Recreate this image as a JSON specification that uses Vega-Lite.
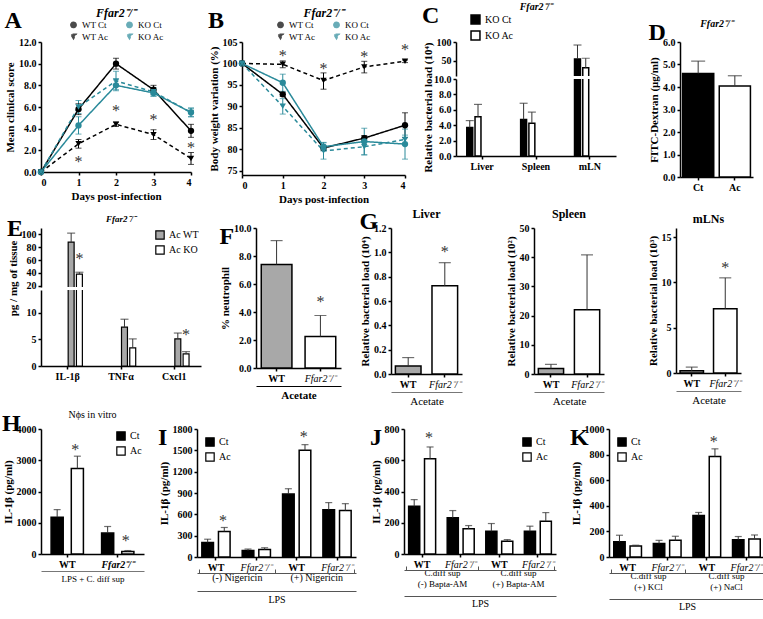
{
"$schema":"https://vega.github.io/schema/vega-lite/v6.json",
"padding":2,
"background":"white",
"config":{
 "font":"Liberation Serif",
 "view":{"stroke":null},
 "axis":{"grid":false,"domainColor":"black","domainWidth":1.5,"tickColor":"black","tickWidth":1.5,"tickSize":3,"labelFont":"Liberation Serif","labelFontSize":10,"labelFontWeight":"bold","labelColor":"black","titleFont":"Liberation Serif","titleFontSize":11,"titleFontWeight":"bold","titleColor":"black","labelPadding":2,"titlePadding":3,"labelOverlap":false,"titleLimit":300,"labelLimit":200},
 "axisX":{"labelAngle":0},
 "title":{"font":"Liberation Serif","color":"black"},
 "legend":{"labelFont":"Liberation Serif","labelColor":"black","labelFontSize":10,"layout":{"top":{"anchor":"middle"}}},
 "text":{"font":"Liberation Serif"}
},
"datasets":{
 "A":[
  {"g":"WT Ct","day":0,"v":0,"lo":0,"hi":0},{"g":"WT Ct","day":1,"v":5.8,"lo":5.3,"hi":6.3},{"g":"WT Ct","day":2,"v":10,"lo":9.5,"hi":10.5},{"g":"WT Ct","day":3,"v":7.6,"lo":7.2,"hi":8.0},{"g":"WT Ct","day":4,"v":3.8,"lo":3.2,"hi":4.4},
  {"g":"KO Ct","day":0,"v":0,"lo":0,"hi":0},{"g":"KO Ct","day":1,"v":4.3,"lo":3.5,"hi":5.1},{"g":"KO Ct","day":2,"v":8.0,"lo":7.5,"hi":8.5},{"g":"KO Ct","day":3,"v":7.3,"lo":7.0,"hi":7.6},{"g":"KO Ct","day":4,"v":5.5,"lo":5.1,"hi":5.9},
  {"g":"WT Ac","day":0,"v":0,"lo":0,"hi":0},{"g":"WT Ac","day":1,"v":2.6,"lo":2.2,"hi":3.0},{"g":"WT Ac","day":2,"v":4.4,"lo":4.2,"hi":4.6},{"g":"WT Ac","day":3,"v":3.45,"lo":3.0,"hi":3.9},{"g":"WT Ac","day":4,"v":1.25,"lo":0.7,"hi":1.8},
  {"g":"KO Ac","day":0,"v":0,"lo":0,"hi":0},{"g":"KO Ac","day":1,"v":6.0,"lo":5.4,"hi":6.6},{"g":"KO Ac","day":2,"v":8.4,"lo":7.6,"hi":9.3},{"g":"KO Ac","day":3,"v":7.4,"lo":7.0,"hi":7.8},{"g":"KO Ac","day":4,"v":5.5,"lo":5.1,"hi":5.9}],
 "Astar":[{"day":1,"y":0.9},{"day":2,"y":5.6},{"day":3,"y":4.8},{"day":4,"y":2.2}],
 "B":[
  {"g":"WT Ct","day":0,"v":100,"lo":100,"hi":100},{"g":"WT Ct","day":1,"v":92.8,"lo":92.3,"hi":93.3},{"g":"WT Ct","day":2,"v":80.3,"lo":79.8,"hi":80.8},{"g":"WT Ct","day":3,"v":82.6,"lo":82.0,"hi":83.2},{"g":"WT Ct","day":4,"v":85.6,"lo":82.7,"hi":88.5},
  {"g":"KO Ct","day":0,"v":100,"lo":100,"hi":100},{"g":"KO Ct","day":1,"v":95.5,"lo":93.5,"hi":97.5},{"g":"KO Ct","day":2,"v":80.6,"lo":79.6,"hi":81.6},{"g":"KO Ct","day":3,"v":81.8,"lo":78.7,"hi":84.9},{"g":"KO Ct","day":4,"v":81.2,"lo":77.7,"hi":84.7},
  {"g":"WT Ac","day":0,"v":100,"lo":100,"hi":100},{"g":"WT Ac","day":1,"v":99.8,"lo":99.0,"hi":100.6},{"g":"WT Ac","day":2,"v":96.0,"lo":94.0,"hi":97.8},{"g":"WT Ac","day":3,"v":99.2,"lo":97.8,"hi":100.5},{"g":"WT Ac","day":4,"v":100.5,"lo":100.2,"hi":100.8},
  {"g":"KO Ac","day":0,"v":100,"lo":100,"hi":100},{"g":"KO Ac","day":1,"v":90.0,"lo":88.2,"hi":91.8},{"g":"KO Ac","day":2,"v":79.6,"lo":77.7,"hi":81.5},{"g":"KO Ac","day":3,"v":80.6,"lo":78.7,"hi":82.5},{"g":"KO Ac","day":4,"v":82.3,"lo":81.3,"hi":83.3}],
 "Bstar":[{"day":1,"y":101.8},{"day":2,"y":98.6},{"day":3,"y":101.6},{"day":4,"y":103.1}],
 "C":[{"org":"Liver","g":"KO Ct","v":3.7,"hi":4.6},{"org":"Liver","g":"KO Ac","v":5.1,"hi":6.7},{"org":"Spleen","g":"KO Ct","v":4.75,"hi":6.85},{"org":"Spleen","g":"KO Ac","v":4.25,"hi":5.7},{"org":"mLN","g":"KO Ct","v":55,"hi":92},{"org":"mLN","g":"KO Ac","v":32,"hi":57}],
 "D":[{"g":"Ct","v":4.6,"hi":5.15},{"g":"Ac","v":4.05,"hi":4.5}],
 "E":[{"c":"IL-1β","g":"Ac WT","v":88,"hi":102},{"c":"IL-1β","g":"Ac KO","v":38,"hi":41,"star":62},{"c":"TNFα","g":"Ac WT","v":7.3,"hi":8.8},{"c":"TNFα","g":"Ac KO","v":3.4,"hi":5.1},{"c":"Cxcl1","g":"Ac WT","v":5.1,"hi":6.2},{"c":"Cxcl1","g":"Ac KO","v":2.3,"hi":2.7,"star":5.8}],
 "F":[{"c":"WT","v":7.4,"hi":9.1},{"c":"KO","v":2.25,"hi":3.75,"star":4.7}],
 "GL":[{"c":"WT","v":0.065,"hi":0.135},{"c":"KO","v":0.725,"hi":0.915,"star":1.0}],
 "GS":[{"c":"WT","v":1.9,"hi":3.3},{"c":"KO","v":22,"hi":40.8}],
 "GM":[{"c":"WT","v":0.25,"hi":0.65},{"c":"KO","v":7.1,"hi":10.5,"star":11.6}],
 "H":[{"cond":"WT","g":"Ct","v":1180,"hi":1420},{"cond":"WT","g":"Ac","v":2740,"hi":3130,"star":3320},{"cond":"KO","g":"Ct","v":670,"hi":880},{"cond":"KO","g":"Ac","v":80,"hi":110,"star":420}],
 "I":[{"grp":"(-) Nigericin","cond":"WT-","g":"Ct","v":205,"hi":250},{"grp":"(-) Nigericin","cond":"WT-","g":"Ac","v":360,"hi":415,"star":505},{"grp":"(-) Nigericin","cond":"KO-","g":"Ct","v":90,"hi":112},{"grp":"(-) Nigericin","cond":"KO-","g":"Ac","v":105,"hi":130},{"grp":"(+) Nigericin","cond":"WT+","g":"Ct","v":885,"hi":960},{"grp":"(+) Nigericin","cond":"WT+","g":"Ac","v":1500,"hi":1580,"star":1690},{"grp":"(+) Nigericin","cond":"KO+","g":"Ct","v":665,"hi":765},{"grp":"(+) Nigericin","cond":"KO+","g":"Ac","v":655,"hi":750}],
 "J":[{"grp":"C.diff sup|(-) Bapta-AM","cond":"WT-","g":"Ct","v":305,"hi":348},{"grp":"C.diff sup|(-) Bapta-AM","cond":"WT-","g":"Ac","v":610,"hi":685,"star":745},{"grp":"C.diff sup|(-) Bapta-AM","cond":"KO-","g":"Ct","v":232,"hi":278},{"grp":"C.diff sup|(-) Bapta-AM","cond":"KO-","g":"Ac","v":162,"hi":182},{"grp":"C.diff sup|(+) Bapta-AM","cond":"WT+","g":"Ct","v":145,"hi":195},{"grp":"C.diff sup|(+) Bapta-AM","cond":"WT+","g":"Ac","v":82,"hi":92},{"grp":"C.diff sup|(+) Bapta-AM","cond":"KO+","g":"Ct","v":145,"hi":178},{"grp":"C.diff sup|(+) Bapta-AM","cond":"KO+","g":"Ac","v":210,"hi":265}],
 "K":[{"grp":"C.diff sup|(+) KCl","cond":"WT-","g":"Ct","v":120,"hi":170},{"grp":"C.diff sup|(+) KCl","cond":"WT-","g":"Ac","v":85,"hi":92},{"grp":"C.diff sup|(+) KCl","cond":"KO-","g":"Ct","v":105,"hi":130},{"grp":"C.diff sup|(+) KCl","cond":"KO-","g":"Ac","v":130,"hi":162},{"grp":"C.diff sup|(+) NaCl","cond":"WT+","g":"Ct","v":325,"hi":348},{"grp":"C.diff sup|(+) NaCl","cond":"WT+","g":"Ac","v":785,"hi":845,"star":900},{"grp":"C.diff sup|(+) NaCl","cond":"KO+","g":"Ct","v":135,"hi":160},{"grp":"C.diff sup|(+) NaCl","cond":"KO+","g":"Ac","v":140,"hi":172}]
},
"spacing":4,
"resolve":{"scale":{"fill":"independent","color":"independent","shape":"independent","strokeDash":"independent"}},
"vconcat":[
 {"spacing":32,"resolve":{"scale":{"fill":"independent","color":"independent","shape":"independent","strokeDash":"independent"}},"hconcat":[
 {"spacing":12,"resolve":{"scale":{"fill":"independent","color":"independent","shape":"independent","strokeDash":"independent"}},"hconcat":[
  {"title":{"text":"A","anchor":"start","fontSize":24,"fontWeight":"bold","offset":-26},
   "resolve":{"scale":{"color":"independent","shape":"independent","strokeDash":"independent"}},
   "vconcat":[{
    "width":150,"height":130,
    "title":{"text":"Ffar2⁻/⁻","fontSize":12,"fontWeight":"bold","fontStyle":"italic","offset":0},
    "layer":[
     {"data":{"name":"A"},"mark":{"type":"rule","strokeWidth":1},"encoding":{"x":{"field":"day","type":"quantitative","scale":{"domain":[0,4],"nice":false},"axis":{"values":[0,1,2,3,4],"tickCount":20,"format":"d","title":"Days post-infection"}},"y":{"field":"lo","type":"quantitative","scale":{"domain":[0,12],"nice":false},"axis":{"values":[0,2,4,6,8,10,12],"tickCount":20,"title":"Mean clinical score"}},"y2":{"field":"hi"},"color":{"field":"g","type":"nominal","scale":{"domain":["WT Ct","KO Ct","WT Ac","KO Ac"],"range":["black","#2a8a9a","black","#2a8a9a"]}}}},
     {"data":{"name":"A"},"mark":{"type":"tick","orient":"horizontal","size":6,"thickness":1},"encoding":{"x":{"field":"day","type":"quantitative"},"y":{"field":"hi","type":"quantitative"},"color":{"field":"g","type":"nominal"}}},
     {"data":{"name":"A"},"mark":{"type":"tick","orient":"horizontal","size":6,"thickness":1},"encoding":{"x":{"field":"day","type":"quantitative"},"y":{"field":"lo","type":"quantitative"},"color":{"field":"g","type":"nominal"}}},
     {"data":{"name":"A"},"mark":{"type":"line","strokeWidth":1.5},"encoding":{"x":{"field":"day","type":"quantitative"},"y":{"field":"v","type":"quantitative"},"color":{"field":"g","type":"nominal"},"strokeDash":{"field":"g","type":"nominal","scale":{"domain":["WT Ct","KO Ct","WT Ac","KO Ac"],"range":[[1,0],[1,0],[4,3],[4,3]]}}}},
     {"data":{"name":"A"},"mark":{"type":"point","filled":true,"size":40,"opacity":1},"encoding":{"x":{"field":"day","type":"quantitative"},"y":{"field":"v","type":"quantitative"},"color":{"field":"g","type":"nominal","legend":{"orient":"top","offset":0,"padding":0,"columns":2,"direction":"horizontal","title":null,"labelFontSize":9,"symbolSize":28,"columnPadding":14,"rowPadding":0}},"shape":{"field":"g","type":"nominal","scale":{"domain":["WT Ct","KO Ct","WT Ac","KO Ac"],"range":["circle","circle","triangle-down","triangle-down"]}}}},
     {"data":{"name":"Astar"},"mark":{"type":"text","fontSize":16,"baseline":"middle","color":"#333"},"encoding":{"x":{"field":"day","type":"quantitative"},"y":{"field":"y","type":"quantitative"},"text":{"value":"*"}}}
    ]}]},
  {"title":{"text":"B","anchor":"start","fontSize":24,"fontWeight":"bold","offset":-26},
   "resolve":{"scale":{"color":"independent","shape":"independent","strokeDash":"independent"}},
   "vconcat":[{
    "width":163,"height":133,
    "title":{"text":"Ffar2⁻/⁻","fontSize":12,"fontWeight":"bold","fontStyle":"italic","offset":0},
    "layer":[
     {"data":{"name":"B"},"mark":{"type":"rule","strokeWidth":1},"encoding":{"x":{"field":"day","type":"quantitative","scale":{"domain":[0,4],"nice":false},"axis":{"values":[0,1,2,3,4],"tickCount":20,"format":"d","title":"Days post-infection"}},"y":{"field":"lo","type":"quantitative","scale":{"domain":[74,105],"nice":false,"zero":false},"axis":{"values":[75,80,85,90,95,100,105],"tickCount":20,"title":"Body weight variation (%)"}},"y2":{"field":"hi"},"color":{"field":"g","type":"nominal","scale":{"domain":["WT Ct","KO Ct","WT Ac","KO Ac"],"range":["black","#2a8a9a","black","#2a8a9a"]}}}},
     {"data":{"name":"B"},"mark":{"type":"tick","orient":"horizontal","size":6,"thickness":1},"encoding":{"x":{"field":"day","type":"quantitative"},"y":{"field":"hi","type":"quantitative"},"color":{"field":"g","type":"nominal"}}},
     {"data":{"name":"B"},"mark":{"type":"tick","orient":"horizontal","size":6,"thickness":1},"encoding":{"x":{"field":"day","type":"quantitative"},"y":{"field":"lo","type":"quantitative"},"color":{"field":"g","type":"nominal"}}},
     {"data":{"name":"B"},"mark":{"type":"line","strokeWidth":1.5},"encoding":{"x":{"field":"day","type":"quantitative"},"y":{"field":"v","type":"quantitative"},"color":{"field":"g","type":"nominal"},"strokeDash":{"field":"g","type":"nominal","scale":{"domain":["WT Ct","KO Ct","WT Ac","KO Ac"],"range":[[1,0],[1,0],[4,3],[4,3]]}}}},
     {"data":{"name":"B"},"mark":{"type":"point","filled":true,"size":40,"opacity":1},"encoding":{"x":{"field":"day","type":"quantitative"},"y":{"field":"v","type":"quantitative"},"color":{"field":"g","type":"nominal","legend":{"orient":"top","offset":0,"padding":0,"columns":2,"direction":"horizontal","title":null,"labelFontSize":9,"symbolSize":28,"columnPadding":14,"rowPadding":0}},"shape":{"field":"g","type":"nominal","scale":{"domain":["WT Ct","KO Ct","WT Ac","KO Ac"],"range":["circle","circle","triangle-down","triangle-down"]}}}},
     {"data":{"name":"Bstar"},"mark":{"type":"text","fontSize":16,"baseline":"middle","color":"#333"},"encoding":{"x":{"field":"day","type":"quantitative"},"y":{"field":"y","type":"quantitative"},"text":{"value":"*"}}}
    ]}]},
  {"title":{"text":"C","anchor":"start","fontSize":24,"fontWeight":"bold","offset":-26},
   "resolve":{"scale":{"fill":"independent"}},
   "vconcat":[{
    "data":{"name":"C"},
    "bounds":"flush","spacing":3,
    "resolve":{"scale":{"fill":"independent"}},
    "vconcat":[
     {"width":160,"height":34,
      "title":{"text":"Ffar2⁻/⁻","fontSize":10,"fontWeight":"bold","fontStyle":"italic","offset":2,"frame":"group"},
      "layer":[
       {"mark":{"type":"bar","stroke":"black","strokeWidth":1.5,"clip":true},"encoding":{"x":{"field":"org","type":"nominal","sort":null,"scale":{"paddingInner":0.43,"paddingOuter":0.2},"axis":null},"xOffset":{"field":"g","sort":null,"scale":{"domain":["KO Ct","KO Ac"],"paddingInner":0.28}},"y":{"field":"v","type":"quantitative","scale":{"domain":[10,100],"nice":false,"zero":false},"axis":{"values":[50,100],"tickCount":20,"title":"Relative bacterial load (10⁴)","titleAnchor":"end"}},"fill":{"field":"g","type":"nominal","scale":{"domain":["KO Ct","KO Ac"],"range":["black","white"]},"legend":{"orient":"none","legendX":14,"legendY":-28,"direction":"vertical","title":null,"symbolType":"square","symbolStrokeColor":"black","symbolStrokeWidth":1.5,"symbolSize":80,"labelFontSize":10,"rowPadding":1,"padding":0}}}},
       {"mark":{"type":"rule","color":"#333","clip":true},"encoding":{"x":{"field":"org","type":"nominal","sort":null},"xOffset":{"field":"g","sort":null},"y":{"field":"v","type":"quantitative"},"y2":{"field":"hi"}}},
       {"mark":{"type":"tick","color":"#333","thickness":1.2,"size":8,"clip":true},"encoding":{"x":{"field":"org","type":"nominal","sort":null},"xOffset":{"field":"g","sort":null},"y":{"field":"hi","type":"quantitative"}}}
      ]},
     {"width":160,"height":77,
      "layer":[
       {"mark":{"type":"bar","stroke":"black","strokeWidth":1.5,"clip":true},"encoding":{"x":{"field":"org","type":"nominal","sort":null,"scale":{"paddingInner":0.43,"paddingOuter":0.2},"axis":{"title":null}},"xOffset":{"field":"g","sort":null,"scale":{"domain":["KO Ct","KO Ac"],"paddingInner":0.28}},"y":{"field":"v","type":"quantitative","scale":{"domain":[0,10],"nice":false},"axis":{"values":[0,2,4,6,8,10],"tickCount":20,"title":null}},"fill":{"field":"g","type":"nominal","scale":{"domain":["KO Ct","KO Ac"],"range":["black","white"]},"legend":null}}},
       {"mark":{"type":"rule","color":"#333","clip":true},"encoding":{"x":{"field":"org","type":"nominal","sort":null},"xOffset":{"field":"g","sort":null},"y":{"field":"v","type":"quantitative"},"y2":{"field":"hi"}}},
       {"mark":{"type":"tick","color":"#333","thickness":1.2,"size":8,"clip":true},"encoding":{"x":{"field":"org","type":"nominal","sort":null},"xOffset":{"field":"g","sort":null},"y":{"field":"hi","type":"quantitative"}}}
      ]}
    ]}]}
 ]},
  {"title":{"text":"D","anchor":"start","fontSize":24,"fontWeight":"bold","offset":-26},
   "resolve":{"scale":{"fill":"independent"}},
   "vconcat":[{
    "width":73,"height":135,
    "title":{"text":"Ffar2⁻/⁻","fontSize":10,"fontWeight":"bold","fontStyle":"italic","offset":8},
    "data":{"name":"D"},
    "layer":[
     {"mark":{"type":"bar","stroke":"black","strokeWidth":1.5},"encoding":{"x":{"field":"g","type":"nominal","sort":null,"scale":{"paddingInner":0.15,"paddingOuter":0.07},"axis":{"title":null}},"y":{"field":"v","type":"quantitative","scale":{"domain":[0,6],"nice":false},"axis":{"values":[0,1,2,3,4,5,6],"tickCount":20,"title":"FITC-Dextran (μg/ml)"}},"fill":{"field":"g","type":"nominal","scale":{"domain":["Ct","Ac"],"range":["black","white"]},"legend":null}}},
     {"mark":{"type":"rule","color":"#333"},"encoding":{"x":{"field":"g","type":"nominal","sort":null},"y":{"field":"v","type":"quantitative"},"y2":{"field":"hi"}}},
     {"mark":{"type":"tick","color":"#333","thickness":1.2,"size":14},"encoding":{"x":{"field":"g","type":"nominal","sort":null},"y":{"field":"hi","type":"quantitative"}}}
    ]}]}
 ]},
 {"spacing":18,"resolve":{"scale":{"fill":"independent","color":"independent","shape":"independent","strokeDash":"independent"}},"hconcat":[
  {"title":{"text":"E","anchor":"start","fontSize":24,"fontWeight":"bold","offset":-26},
   "resolve":{"scale":{"fill":"independent"}},
   "vconcat":[{
    "data":{"name":"E"},
    "bounds":"flush","spacing":3,
    "resolve":{"scale":{"fill":"independent"}},
    "vconcat":[
     {"width":160,"height":59,
      "title":{"text":"Ffar2⁻/⁻","fontSize":9,"fontWeight":"bold","fontStyle":"italic","offset":4,"frame":"group"},
      "layer":[
       {"mark":{"type":"bar","stroke":"black","strokeWidth":1.2,"clip":true},"encoding":{"x":{"field":"c","type":"nominal","sort":null,"scale":{"paddingInner":0.4,"paddingOuter":0.2},"axis":null},"xOffset":{"field":"g","sort":null,"scale":{"domain":["Ac WT","Ac KO"],"paddingInner":0.4}},"y":{"field":"v","type":"quantitative","scale":{"domain":[18,110],"nice":false,"zero":false},"axis":{"values":[20,40,60,80,100],"tickCount":20,"title":"pg / mg of tissue","titleAnchor":"end","titleY":12}},"fill":{"field":"g","type":"nominal","scale":{"domain":["Ac WT","Ac KO"],"range":["#a8a8a8","white"]},"legend":{"orient":"top-right","offset":2,"title":null,"symbolType":"square","symbolStrokeColor":"black","symbolStrokeWidth":1.2,"symbolSize":70,"labelFontSize":10,"rowPadding":1,"padding":0}}}},
       {"mark":{"type":"rule","color":"#333","clip":true},"encoding":{"x":{"field":"c","type":"nominal","sort":null},"xOffset":{"field":"g","sort":null},"y":{"field":"v","type":"quantitative"},"y2":{"field":"hi"}}},
       {"mark":{"type":"tick","color":"#333","thickness":1.2,"size":8,"clip":true},"encoding":{"x":{"field":"c","type":"nominal","sort":null},"xOffset":{"field":"g","sort":null},"y":{"field":"hi","type":"quantitative"}}},
       {"transform":[{"filter":"datum.star > 18"}],"mark":{"type":"text","fontSize":16,"baseline":"middle","color":"#333"},"encoding":{"x":{"field":"c","type":"nominal","sort":null},"xOffset":{"field":"g","sort":null},"y":{"field":"star","type":"quantitative"},"text":{"value":"*"}}}
      ]},
     {"width":160,"height":76,
      "layer":[
       {"mark":{"type":"bar","stroke":"black","strokeWidth":1.2,"clip":true},"encoding":{"x":{"field":"c","type":"nominal","sort":null,"scale":{"paddingInner":0.4,"paddingOuter":0.2},"axis":{"title":null}},"xOffset":{"field":"g","sort":null,"scale":{"domain":["Ac WT","Ac KO"],"paddingInner":0.4}},"y":{"field":"v","type":"quantitative","scale":{"domain":[0,14.3],"nice":false},"axis":{"values":[0,5,10],"tickCount":20,"title":null}},"fill":{"field":"g","type":"nominal","scale":{"domain":["Ac WT","Ac KO"],"range":["#a8a8a8","white"]},"legend":null}}},
       {"mark":{"type":"rule","color":"#333","clip":true},"encoding":{"x":{"field":"c","type":"nominal","sort":null},"xOffset":{"field":"g","sort":null},"y":{"field":"v","type":"quantitative"},"y2":{"field":"hi"}}},
       {"mark":{"type":"tick","color":"#333","thickness":1.2,"size":8,"clip":true},"encoding":{"x":{"field":"c","type":"nominal","sort":null},"xOffset":{"field":"g","sort":null},"y":{"field":"hi","type":"quantitative"}}},
       {"transform":[{"filter":"datum.star < 14"}],"mark":{"type":"text","fontSize":16,"baseline":"middle","color":"#333"},"encoding":{"x":{"field":"c","type":"nominal","sort":null},"xOffset":{"field":"g","sort":null},"y":{"field":"star","type":"quantitative"},"text":{"value":"*"}}}
      ]}
    ]}]},
  {"title":{"text":"F","anchor":"start","fontSize":24,"fontWeight":"bold","offset":-26},
   "resolve":{"scale":{"fill":"independent"}},
   "vconcat":[{
    "width":85,"height":140,"data":{"name":"F"},
    "resolve":{"scale":{"x":"independent"},"axis":{"x":"independent"}},
    "layer":[
     {"mark":{"type":"bar","stroke":"black","strokeWidth":1.5},"encoding":{"x":{"field":"c","type":"nominal","scale":{"type":"band","domain":["WT","KO"],"paddingInner":0.3,"paddingOuter":0.12},"axis":{"title":null,"labelExpr":"datum.value=='WT' ? 'WT' : 'Ffar2⁻/⁻'","labelFontStyle":{"condition":{"test":"datum.value!='WT'","value":"italic"},"value":"normal"},"labelFontWeight":{"condition":{"test":"datum.value!='WT'","value":"normal"},"value":"bold"}}},"y":{"field":"v","type":"quantitative","scale":{"domain":[0,10],"nice":false},"axis":{"values":[0,2,4,6,8,10],"tickCount":20,"title":"% neutrophil"}},"fill":{"field":"c","type":"nominal","scale":{"domain":["WT","KO"],"range":["#a8a8a8","white"]},"legend":null}}},
     {"mark":{"type":"rule","color":"#333"},"encoding":{"x":{"field":"c","type":"nominal","scale":{"type":"band","domain":["WT","KO"],"paddingInner":0.3,"paddingOuter":0.12},"axis":null},"y":{"field":"v","type":"quantitative"},"y2":{"field":"hi"}}},
     {"mark":{"type":"tick","color":"#333","thickness":1.2,"size":12},"encoding":{"x":{"field":"c","type":"nominal","scale":{"type":"band","domain":["WT","KO"],"paddingInner":0.3,"paddingOuter":0.12},"axis":null},"y":{"field":"hi","type":"quantitative"}}},
     {"transform":[{"filter":"isValid(datum.star)"}],"mark":{"type":"text","fontSize":16,"baseline":"middle","color":"#333"},"encoding":{"x":{"field":"c","type":"nominal","scale":{"type":"band","domain":["WT","KO"],"paddingInner":0.3,"paddingOuter":0.12},"axis":null},"y":{"field":"star","type":"quantitative"},"text":{"value":"*"}}},
     {"mark":{"type":"point","opacity":0},"encoding":{"x":{"field":"c","type":"nominal","scale":{"type":"band","domain":["WT","KO"]},"axis":{"orient":"bottom","offset":18,"labels":false,"ticks":false,"domainWidth":1,"title":"Acetate","titlePadding":3}},"y":{"field":"v","type":"quantitative"}}}
    ]}]},
  {"spacing":42,"resolve":{"scale":{"fill":"independent"}},"hconcat":[
  {"title":{"text":"G","anchor":"start","fontSize":24,"fontWeight":"bold","offset":-26},
   "resolve":{"scale":{"fill":"independent"}},
   "vconcat":[{
    "width":71,"height":146,"data":{"name":"GL"},
    "title":{"text":"Liver","fontSize":12,"fontWeight":"bold","offset":2},
    "resolve":{"scale":{"x":"independent"},"axis":{"x":"independent"}},
    "layer":[
     {"mark":{"type":"bar","stroke":"black","strokeWidth":1.5},"encoding":{"x":{"field":"c","type":"nominal","scale":{"type":"band","domain":["WT","KO"],"paddingInner":0.3,"paddingOuter":0.12},"axis":{"title":null,"labelExpr":"datum.value=='WT' ? 'WT' : 'Ffar2⁻/⁻'","labelFontStyle":{"condition":{"test":"datum.value!='WT'","value":"italic"},"value":"normal"},"labelFontWeight":{"condition":{"test":"datum.value!='WT'","value":"normal"},"value":"bold"}}},"y":{"field":"v","type":"quantitative","scale":{"domain":[0,1.2],"nice":false},"axis":{"values":[0,0.2,0.4,0.6,0.8,1.0,1.2],"tickCount":20,"format":".1f","title":"Relative bacterial load (10⁴)"}},"fill":{"field":"c","type":"nominal","scale":{"domain":["WT","KO"],"range":["#a8a8a8","white"]},"legend":null}}},
     {"mark":{"type":"rule","color":"#333"},"encoding":{"x":{"field":"c","type":"nominal","scale":{"type":"band","domain":["WT","KO"],"paddingInner":0.3,"paddingOuter":0.12},"axis":null},"y":{"field":"v","type":"quantitative"},"y2":{"field":"hi"}}},
     {"mark":{"type":"tick","color":"#333","thickness":1.2,"size":12},"encoding":{"x":{"field":"c","type":"nominal","scale":{"type":"band","domain":["WT","KO"],"paddingInner":0.3,"paddingOuter":0.12},"axis":null},"y":{"field":"hi","type":"quantitative"}}},
     {"transform":[{"filter":"isValid(datum.star)"}],"mark":{"type":"text","fontSize":16,"baseline":"middle","color":"#333"},"encoding":{"x":{"field":"c","type":"nominal","scale":{"type":"band","domain":["WT","KO"],"paddingInner":0.3,"paddingOuter":0.12},"axis":null},"y":{"field":"star","type":"quantitative"},"text":{"value":"*"}}},
     {"mark":{"type":"point","opacity":0},"encoding":{"x":{"field":"c","type":"nominal","scale":{"type":"band","domain":["WT","KO"]},"axis":{"orient":"bottom","offset":18,"labels":false,"ticks":false,"domainWidth":1,"domainColor":"#777","title":"Acetate","titleFontWeight":"normal","titleFontSize":11,"titlePadding":3}},"y":{"field":"v","type":"quantitative"}}}
    ]}]},
  {"width":70,"height":146,"data":{"name":"GS"},
   "title":{"text":"Spleen","fontSize":12,"fontWeight":"bold","offset":2},
   "resolve":{"scale":{"x":"independent"},"axis":{"x":"independent"}},
   "layer":[
    {"mark":{"type":"bar","stroke":"black","strokeWidth":1.5},"encoding":{"x":{"field":"c","type":"nominal","scale":{"type":"band","domain":["WT","KO"],"paddingInner":0.3,"paddingOuter":0.12},"axis":{"title":null,"labelExpr":"datum.value=='WT' ? 'WT' : 'Ffar2⁻/⁻'","labelFontStyle":{"condition":{"test":"datum.value!='WT'","value":"italic"},"value":"normal"},"labelFontWeight":{"condition":{"test":"datum.value!='WT'","value":"normal"},"value":"bold"}}},"y":{"field":"v","type":"quantitative","scale":{"domain":[0,50],"nice":false},"axis":{"values":[0,10,20,30,40,50],"tickCount":20,"title":"Relative bacterial load (10²)"}},"fill":{"field":"c","type":"nominal","scale":{"domain":["WT","KO"],"range":["#a8a8a8","white"]},"legend":null}}},
    {"mark":{"type":"rule","color":"#333"},"encoding":{"x":{"field":"c","type":"nominal","scale":{"type":"band","domain":["WT","KO"],"paddingInner":0.3,"paddingOuter":0.12},"axis":null},"y":{"field":"v","type":"quantitative"},"y2":{"field":"hi"}}},
    {"mark":{"type":"tick","color":"#333","thickness":1.2,"size":12},"encoding":{"x":{"field":"c","type":"nominal","scale":{"type":"band","domain":["WT","KO"],"paddingInner":0.3,"paddingOuter":0.12},"axis":null},"y":{"field":"hi","type":"quantitative"}}},
    {"mark":{"type":"point","opacity":0},"encoding":{"x":{"field":"c","type":"nominal","scale":{"type":"band","domain":["WT","KO"]},"axis":{"orient":"bottom","offset":18,"labels":false,"ticks":false,"domainWidth":1,"domainColor":"#777","title":"Acetate","titleFontWeight":"normal","titleFontSize":11,"titlePadding":3}},"y":{"field":"v","type":"quantitative"}}}
   ]},
  {"width":65,"height":145,"data":{"name":"GM"},
   "title":{"text":"mLNs","fontSize":12,"fontWeight":"bold","offset":2},
   "resolve":{"scale":{"x":"independent"},"axis":{"x":"independent"}},
   "layer":[
    {"mark":{"type":"bar","stroke":"black","strokeWidth":1.5},"encoding":{"x":{"field":"c","type":"nominal","scale":{"type":"band","domain":["WT","KO"],"paddingInner":0.3,"paddingOuter":0.12},"axis":{"title":null,"labelExpr":"datum.value=='WT' ? 'WT' : 'Ffar2⁻/⁻'","labelFontStyle":{"condition":{"test":"datum.value!='WT'","value":"italic"},"value":"normal"},"labelFontWeight":{"condition":{"test":"datum.value!='WT'","value":"normal"},"value":"bold"}}},"y":{"field":"v","type":"quantitative","scale":{"domain":[0,16],"nice":false},"axis":{"values":[0,5,10,15],"tickCount":20,"title":"Relative bacterial load (10³)"}},"fill":{"field":"c","type":"nominal","scale":{"domain":["WT","KO"],"range":["#a8a8a8","white"]},"legend":null}}},
    {"mark":{"type":"rule","color":"#333"},"encoding":{"x":{"field":"c","type":"nominal","scale":{"type":"band","domain":["WT","KO"],"paddingInner":0.3,"paddingOuter":0.12},"axis":null},"y":{"field":"v","type":"quantitative"},"y2":{"field":"hi"}}},
    {"mark":{"type":"tick","color":"#333","thickness":1.2,"size":12},"encoding":{"x":{"field":"c","type":"nominal","scale":{"type":"band","domain":["WT","KO"],"paddingInner":0.3,"paddingOuter":0.12},"axis":null},"y":{"field":"hi","type":"quantitative"}}},
    {"transform":[{"filter":"isValid(datum.star)"}],"mark":{"type":"text","fontSize":16,"baseline":"middle","color":"#333"},"encoding":{"x":{"field":"c","type":"nominal","scale":{"type":"band","domain":["WT","KO"],"paddingInner":0.3,"paddingOuter":0.12},"axis":null},"y":{"field":"star","type":"quantitative"},"text":{"value":"*"}}},
    {"mark":{"type":"point","opacity":0},"encoding":{"x":{"field":"c","type":"nominal","scale":{"type":"band","domain":["WT","KO"]},"axis":{"orient":"bottom","offset":18,"labels":false,"ticks":false,"domainWidth":1,"domainColor":"#777","title":"Acetate","titleFontWeight":"normal","titleFontSize":11,"titlePadding":3}},"y":{"field":"v","type":"quantitative"}}}
   ]}
  ]}
 ]},
 {"spacing":14,"resolve":{"scale":{"fill":"independent","color":"independent","shape":"independent","strokeDash":"independent"}},"hconcat":[
  {"title":{"text":"H","anchor":"start","fontSize":24,"fontWeight":"bold","offset":-26},
   "resolve":{"scale":{"fill":"independent"}},
   "vconcat":[{
    "width":103,"height":125,"data":{"name":"H"},
    "title":{"text":"Nϕs in vitro","fontSize":10,"fontWeight":"normal","offset":4},
    "resolve":{"scale":{"x":"independent","xOffset":"independent"},"axis":{"x":"independent"}},
    "layer":[
     {"mark":{"type":"bar","stroke":"black","strokeWidth":1.5},"encoding":{"x":{"field":"cond","type":"nominal","scale":{"type":"band","domain":["WT","KO"],"paddingInner":0.36,"paddingOuter":0.2},"axis":{"title":null,"labelExpr":"datum.value=='WT' ? 'WT' : 'Ffar2⁻/⁻'","labelFontStyle":{"condition":{"test":"datum.value!='WT'","value":"italic"},"value":"normal"}}},"xOffset":{"field":"g","scale":{"domain":["Ct","Ac"],"paddingInner":0.4}},"y":{"field":"v","type":"quantitative","scale":{"domain":[0,4000],"nice":false},"axis":{"values":[0,1000,2000,3000,4000],"tickCount":20,"format":"d","title":"IL-1β (pg/ml)"}},"fill":{"field":"g","type":"nominal","scale":{"domain":["Ct","Ac"],"range":["black","white"]},"legend":{"orient":"top-right","offset":2,"title":null,"symbolType":"square","symbolStrokeColor":"black","symbolStrokeWidth":1.2,"symbolSize":70,"labelFontSize":10,"rowPadding":1,"padding":0}}}},
     {"mark":{"type":"rule","color":"#333"},"encoding":{"x":{"field":"cond","type":"nominal","scale":{"type":"band","domain":["WT","KO"],"paddingInner":0.36,"paddingOuter":0.2},"axis":null},"xOffset":{"field":"g","scale":{"domain":["Ct","Ac"],"paddingInner":0.4}},"y":{"field":"v","type":"quantitative"},"y2":{"field":"hi"}}},
     {"mark":{"type":"tick","color":"#333","thickness":1.2,"size":7},"encoding":{"x":{"field":"cond","type":"nominal","scale":{"type":"band","domain":["WT","KO"],"paddingInner":0.36,"paddingOuter":0.2},"axis":null},"xOffset":{"field":"g","scale":{"domain":["Ct","Ac"],"paddingInner":0.4}},"y":{"field":"hi","type":"quantitative"}}},
     {"transform":[{"filter":"isValid(datum.star)"}],"mark":{"type":"text","fontSize":16,"baseline":"middle","color":"#333"},"encoding":{"x":{"field":"cond","type":"nominal","scale":{"type":"band","domain":["WT","KO"],"paddingInner":0.36,"paddingOuter":0.2},"axis":null},"xOffset":{"field":"g","scale":{"domain":["Ct","Ac"],"paddingInner":0.4}},"y":{"field":"star","type":"quantitative"},"text":{"value":"*"}}},
     {"mark":{"type":"point","opacity":0},"encoding":{"x":{"field":"cond","type":"nominal","scale":{"type":"band","domain":["WT","KO"]},"axis":{"orient":"bottom","offset":17,"labels":false,"ticks":false,"domainWidth":1,"domainColor":"#777","title":"LPS + C. diff sup","titleFontWeight":"normal","titleFontSize":9,"titlePadding":3}},"y":{"field":"v","type":"quantitative"}}}
    ]}]},
  {"title":{"text":"I","anchor":"start","fontSize":24,"fontWeight":"bold","offset":-26},
   "resolve":{"scale":{"fill":"independent"}},
   "vconcat":[{
    "width":159,"height":128,"data":{"name":"I"},
    "resolve":{"scale":{"x":"independent","xOffset":"independent"},"axis":{"x":"independent"}},
    "layer":[
     {"mark":{"type":"bar","stroke":"black","strokeWidth":1.5},"encoding":{"x":{"field":"cond","type":"nominal","scale":{"type":"band","domain":["WT-","KO-","WT+","KO+"],"paddingInner":0.3,"paddingOuter":0.12},"axis":{"title":null,"labelExpr":"indexof(datum.value,'WT')==0 ? 'WT' : 'Ffar2⁻/⁻'","labelFontStyle":{"condition":{"test":"indexof(datum.value,'WT')!=0","value":"italic"},"value":"normal"},"labelFontWeight":{"condition":{"test":"indexof(datum.value,'WT')!=0","value":"normal"},"value":"bold"}}},"xOffset":{"field":"g","scale":{"domain":["Ct","Ac"],"paddingInner":0.3}},"y":{"field":"v","type":"quantitative","scale":{"domain":[0,1800],"nice":false},"axis":{"values":[0,300,600,900,1200,1500,1800],"tickCount":20,"format":"d","title":"IL-1β (pg/ml)"}},"fill":{"field":"g","type":"nominal","scale":{"domain":["Ct","Ac"],"range":["black","white"]},"legend":{"orient":"top-left","offset":8,"title":null,"symbolType":"square","symbolStrokeColor":"black","symbolStrokeWidth":1.2,"symbolSize":70,"labelFontSize":10,"rowPadding":1,"padding":0}}}},
     {"mark":{"type":"rule","color":"#333"},"encoding":{"x":{"field":"cond","type":"nominal","scale":{"type":"band","domain":["WT-","KO-","WT+","KO+"],"paddingInner":0.3,"paddingOuter":0.12},"axis":null},"xOffset":{"field":"g","scale":{"domain":["Ct","Ac"],"paddingInner":0.3}},"y":{"field":"v","type":"quantitative"},"y2":{"field":"hi"}}},
     {"mark":{"type":"tick","color":"#333","thickness":1.2,"size":7},"encoding":{"x":{"field":"cond","type":"nominal","scale":{"type":"band","domain":["WT-","KO-","WT+","KO+"],"paddingInner":0.3,"paddingOuter":0.12},"axis":null},"xOffset":{"field":"g","scale":{"domain":["Ct","Ac"],"paddingInner":0.3}},"y":{"field":"hi","type":"quantitative"}}},
     {"transform":[{"filter":"isValid(datum.star)"}],"mark":{"type":"text","fontSize":16,"baseline":"middle","color":"#333"},"encoding":{"x":{"field":"cond","type":"nominal","scale":{"type":"band","domain":["WT-","KO-","WT+","KO+"],"paddingInner":0.3,"paddingOuter":0.12},"axis":null},"xOffset":{"field":"g","scale":{"domain":["Ct","Ac"],"paddingInner":0.3}},"y":{"field":"star","type":"quantitative"},"text":{"value":"*"}}},
     {"mark":{"type":"point","opacity":0},"encoding":{"x":{"field":"grp","type":"nominal","scale":{"type":"band","domain":["(-) Nigericin","(+) Nigericin"],"paddingInner":0.04,"paddingOuter":0.02},"axis":{"orient":"bottom","offset":16,"tickBand":"extent","tickSize":-4,"tickWidth":1,"tickColor":"#555","domainWidth":1,"domainColor":"#555","labelFontWeight":"normal","labelFontSize":10,"labelPadding":3,"title":null}},"y":{"field":"v","type":"quantitative"}}},
     {"mark":{"type":"point","opacity":0},"encoding":{"x":{"field":"grp","type":"nominal","scale":{"type":"band","domain":["(-) Nigericin","(+) Nigericin"]},"axis":{"orient":"bottom","offset":34,"labels":false,"ticks":false,"domainWidth":1,"domainColor":"#555","title":"LPS","titleFontWeight":"normal","titleFontSize":10,"titlePadding":3}},"y":{"field":"v","type":"quantitative"}}}
    ]}]},
  {"title":{"text":"J","anchor":"start","fontSize":24,"fontWeight":"bold","offset":-26},
   "resolve":{"scale":{"fill":"independent"}},
   "vconcat":[{
    "width":152,"height":125,"data":{"name":"J"},
    "resolve":{"scale":{"x":"independent","xOffset":"independent"},"axis":{"x":"independent"}},
    "layer":[
     {"mark":{"type":"bar","stroke":"black","strokeWidth":1.5},"encoding":{"x":{"field":"cond","type":"nominal","scale":{"type":"band","domain":["WT-","KO-","WT+","KO+"],"paddingInner":0.3,"paddingOuter":0.12},"axis":{"title":null,"labelExpr":"indexof(datum.value,'WT')==0 ? 'WT' : 'Ffar2⁻/⁻'","labelFontStyle":{"condition":{"test":"indexof(datum.value,'WT')!=0","value":"italic"},"value":"normal"},"labelFontWeight":{"condition":{"test":"indexof(datum.value,'WT')!=0","value":"normal"},"value":"bold"}}},"xOffset":{"field":"g","scale":{"domain":["Ct","Ac"],"paddingInner":0.3}},"y":{"field":"v","type":"quantitative","scale":{"domain":[0,800],"nice":false},"axis":{"values":[0,200,400,600,800],"tickCount":20,"title":"IL-1β (pg/ml)"}},"fill":{"field":"g","type":"nominal","scale":{"domain":["Ct","Ac"],"range":["black","white"]},"legend":{"orient":"top-right","offset":8,"title":null,"symbolType":"square","symbolStrokeColor":"black","symbolStrokeWidth":1.2,"symbolSize":70,"labelFontSize":10,"rowPadding":1,"padding":0}}}},
     {"mark":{"type":"rule","color":"#333"},"encoding":{"x":{"field":"cond","type":"nominal","scale":{"type":"band","domain":["WT-","KO-","WT+","KO+"],"paddingInner":0.3,"paddingOuter":0.12},"axis":null},"xOffset":{"field":"g","scale":{"domain":["Ct","Ac"],"paddingInner":0.3}},"y":{"field":"v","type":"quantitative"},"y2":{"field":"hi"}}},
     {"mark":{"type":"tick","color":"#333","thickness":1.2,"size":7},"encoding":{"x":{"field":"cond","type":"nominal","scale":{"type":"band","domain":["WT-","KO-","WT+","KO+"],"paddingInner":0.3,"paddingOuter":0.12},"axis":null},"xOffset":{"field":"g","scale":{"domain":["Ct","Ac"],"paddingInner":0.3}},"y":{"field":"hi","type":"quantitative"}}},
     {"transform":[{"filter":"isValid(datum.star)"}],"mark":{"type":"text","fontSize":16,"baseline":"middle","color":"#333"},"encoding":{"x":{"field":"cond","type":"nominal","scale":{"type":"band","domain":["WT-","KO-","WT+","KO+"],"paddingInner":0.3,"paddingOuter":0.12},"axis":null},"xOffset":{"field":"g","scale":{"domain":["Ct","Ac"],"paddingInner":0.3}},"y":{"field":"star","type":"quantitative"},"text":{"value":"*"}}},
     {"mark":{"type":"point","opacity":0},"encoding":{"x":{"field":"grp","type":"nominal","scale":{"type":"band","domain":["C.diff sup|(-) Bapta-AM","C.diff sup|(+) Bapta-AM"],"paddingInner":0.04,"paddingOuter":0.02},"axis":{"orient":"bottom","offset":16,"tickBand":"extent","tickSize":-4,"tickWidth":1,"tickColor":"#555","domainWidth":1,"domainColor":"#555","labelFontWeight":"normal","labelFontSize":9,"labelPadding":2,"labelExpr":"isValid(datum.value) ? split(datum.value,'|') : ''","title":null}},"y":{"field":"v","type":"quantitative"}}},
     {"mark":{"type":"point","opacity":0},"encoding":{"x":{"field":"grp","type":"nominal","scale":{"type":"band","domain":["C.diff sup|(-) Bapta-AM","C.diff sup|(+) Bapta-AM"]},"axis":{"orient":"bottom","offset":42,"labels":false,"ticks":false,"domainWidth":1,"domainColor":"#555","title":"LPS","titleFontWeight":"normal","titleFontSize":10,"titlePadding":2}},"y":{"field":"v","type":"quantitative"}}}
    ]}]},
  {"title":{"text":"K","anchor":"start","fontSize":24,"fontWeight":"bold","offset":-26},
   "resolve":{"scale":{"fill":"independent"}},
   "vconcat":[{
    "width":156,"height":128,"data":{"name":"K"},
    "resolve":{"scale":{"x":"independent","xOffset":"independent"},"axis":{"x":"independent"}},
    "layer":[
     {"mark":{"type":"bar","stroke":"black","strokeWidth":1.5},"encoding":{"x":{"field":"cond","type":"nominal","scale":{"type":"band","domain":["WT-","KO-","WT+","KO+"],"paddingInner":0.3,"paddingOuter":0.12},"axis":{"title":null,"labelExpr":"indexof(datum.value,'WT')==0 ? 'WT' : 'Ffar2⁻/⁻'","labelFontStyle":{"condition":{"test":"indexof(datum.value,'WT')!=0","value":"italic"},"value":"normal"},"labelFontWeight":{"condition":{"test":"indexof(datum.value,'WT')!=0","value":"normal"},"value":"bold"}}},"xOffset":{"field":"g","scale":{"domain":["Ct","Ac"],"paddingInner":0.3}},"y":{"field":"v","type":"quantitative","scale":{"domain":[0,1000],"nice":false},"axis":{"values":[0,200,400,600,800,1000],"tickCount":20,"format":"d","title":"IL-1β (pg/ml)"}},"fill":{"field":"g","type":"nominal","scale":{"domain":["Ct","Ac"],"range":["black","white"]},"legend":{"orient":"top-left","offset":8,"title":null,"symbolType":"square","symbolStrokeColor":"black","symbolStrokeWidth":1.2,"symbolSize":70,"labelFontSize":10,"rowPadding":1,"padding":0}}}},
     {"mark":{"type":"rule","color":"#333"},"encoding":{"x":{"field":"cond","type":"nominal","scale":{"type":"band","domain":["WT-","KO-","WT+","KO+"],"paddingInner":0.3,"paddingOuter":0.12},"axis":null},"xOffset":{"field":"g","scale":{"domain":["Ct","Ac"],"paddingInner":0.3}},"y":{"field":"v","type":"quantitative"},"y2":{"field":"hi"}}},
     {"mark":{"type":"tick","color":"#333","thickness":1.2,"size":7},"encoding":{"x":{"field":"cond","type":"nominal","scale":{"type":"band","domain":["WT-","KO-","WT+","KO+"],"paddingInner":0.3,"paddingOuter":0.12},"axis":null},"xOffset":{"field":"g","scale":{"domain":["Ct","Ac"],"paddingInner":0.3}},"y":{"field":"hi","type":"quantitative"}}},
     {"transform":[{"filter":"isValid(datum.star)"}],"mark":{"type":"text","fontSize":16,"baseline":"middle","color":"#333"},"encoding":{"x":{"field":"cond","type":"nominal","scale":{"type":"band","domain":["WT-","KO-","WT+","KO+"],"paddingInner":0.3,"paddingOuter":0.12},"axis":null},"xOffset":{"field":"g","scale":{"domain":["Ct","Ac"],"paddingInner":0.3}},"y":{"field":"star","type":"quantitative"},"text":{"value":"*"}}},
     {"mark":{"type":"point","opacity":0},"encoding":{"x":{"field":"grp","type":"nominal","scale":{"type":"band","domain":["C.diff sup|(+) KCl","C.diff sup|(+) NaCl"],"paddingInner":0.04,"paddingOuter":0.02},"axis":{"orient":"bottom","offset":16,"tickBand":"extent","tickSize":-4,"tickWidth":1,"tickColor":"#555","domainWidth":1,"domainColor":"#555","labelFontWeight":"normal","labelFontSize":9,"labelPadding":2,"labelExpr":"isValid(datum.value) ? split(datum.value,'|') : ''","title":null}},"y":{"field":"v","type":"quantitative"}}},
     {"mark":{"type":"point","opacity":0},"encoding":{"x":{"field":"grp","type":"nominal","scale":{"type":"band","domain":["C.diff sup|(+) KCl","C.diff sup|(+) NaCl"]},"axis":{"orient":"bottom","offset":42,"labels":false,"ticks":false,"domainWidth":1,"domainColor":"#555","title":"LPS","titleFontWeight":"normal","titleFontSize":10,"titlePadding":2}},"y":{"field":"v","type":"quantitative"}}}
    ]}]}
 ]}
]
}
